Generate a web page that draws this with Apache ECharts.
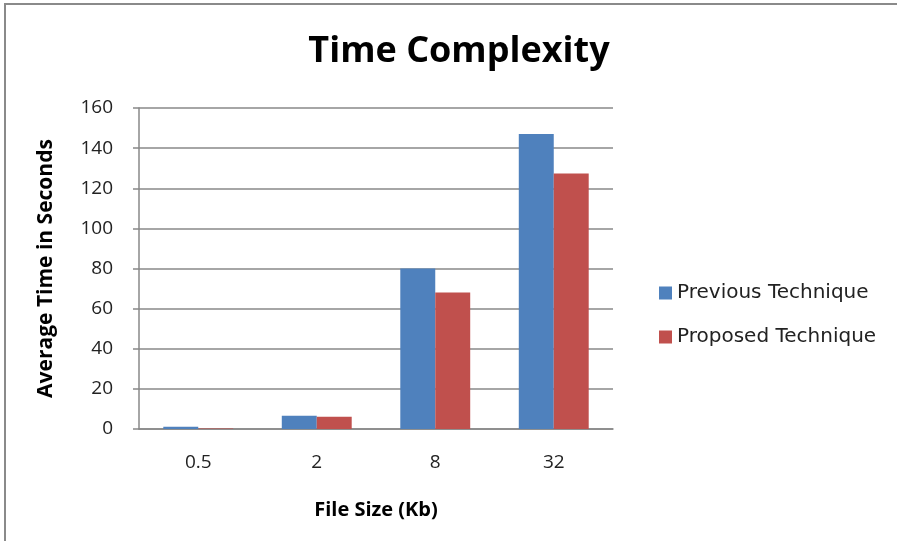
<!DOCTYPE html>
<html><head><meta charset="utf-8">
<script src="https://cdn.jsdelivr.net/npm/echarts@6/dist/echarts.min.js"></script>
<style>html,body{margin:0;padding:0;background:#fff}#c{width:897px;height:541px}</style>
</head><body><div id="c"></div>
<script>
const categories = ['0.5', '2', '8', '32'];
const previousTechnique = [1.1, 6.6, 80, 147];
const proposedTechnique = [0.3, 6.1, 68, 127.4];
const seriesNames = ['Previous Technique', 'Proposed Technique'];

const chart = echarts.init(document.getElementById('c'), null, {renderer: 'canvas'});
const font = 'Open Sans';
chart.setOption({
  animation: false,
  backgroundColor: '#fff',
  graphic: [{
    type: 'rect', shape: {x: 5, y: 4, width: 1200, height: 1000},
    style: {fill: 'none', stroke: '#8a8a8a', lineWidth: 2}, silent: true
  }],
  title: {
    text: 'Time Complexity', left: 454, top: 29, textAlign: 'center',
    textStyle: {fontFamily: font, fontWeight: 'bold', fontSize: 36, color: '#000'}
  },
  legend: {
    orient: 'vertical', left: 654, top: 278, itemGap: 24, itemWidth: 13, itemHeight: 13,
    icon: 'rect',
    textStyle: {fontFamily: 'DejaVu Sans', fontSize: 20, color: '#222'},
    data: seriesNames
  },
  grid: {left: 139, right: 284, top: 108, bottom: 112},
  xAxis: {
    type: 'category', data: categories,
    name: 'File Size (Kb)', nameLocation: 'middle', nameGap: 71,
    nameTextStyle: {fontFamily: font, fontWeight: 'bold', fontSize: 20, color: '#000'},
    axisLine: {lineStyle: {color: '#888', width: 1.5}},
    axisTick: {show: false},
    axisLabel: {fontFamily: font, fontSize: 19, color: '#222', margin: 24}
  },
  yAxis: {
    type: 'value', min: 0, max: 160, interval: 20,
    name: 'Average Time in Seconds', nameLocation: 'middle', nameGap: 82,
    nameTextStyle: {fontFamily: font, fontWeight: 'bold', fontSize: 21, color: '#000'},
    axisLine: {show: true, lineStyle: {color: '#888', width: 1.5}},
    axisTick: {show: true, length: 6, lineStyle: {color: '#888', width: 1.5}},
    axisLabel: {fontFamily: font, fontSize: 19, color: '#222', margin: 26},
    splitLine: {lineStyle: {color: '#888', width: 1.5}}
  },
  series: [
    {name: seriesNames[0], type: 'bar', data: previousTechnique, barGap: '0%', barCategoryGap: '41%',
     itemStyle: {color: '#4F81BD'}},
    {name: seriesNames[1], type: 'bar', data: proposedTechnique,
     itemStyle: {color: '#C0504D'}}
  ]
});
</script></body></html>
